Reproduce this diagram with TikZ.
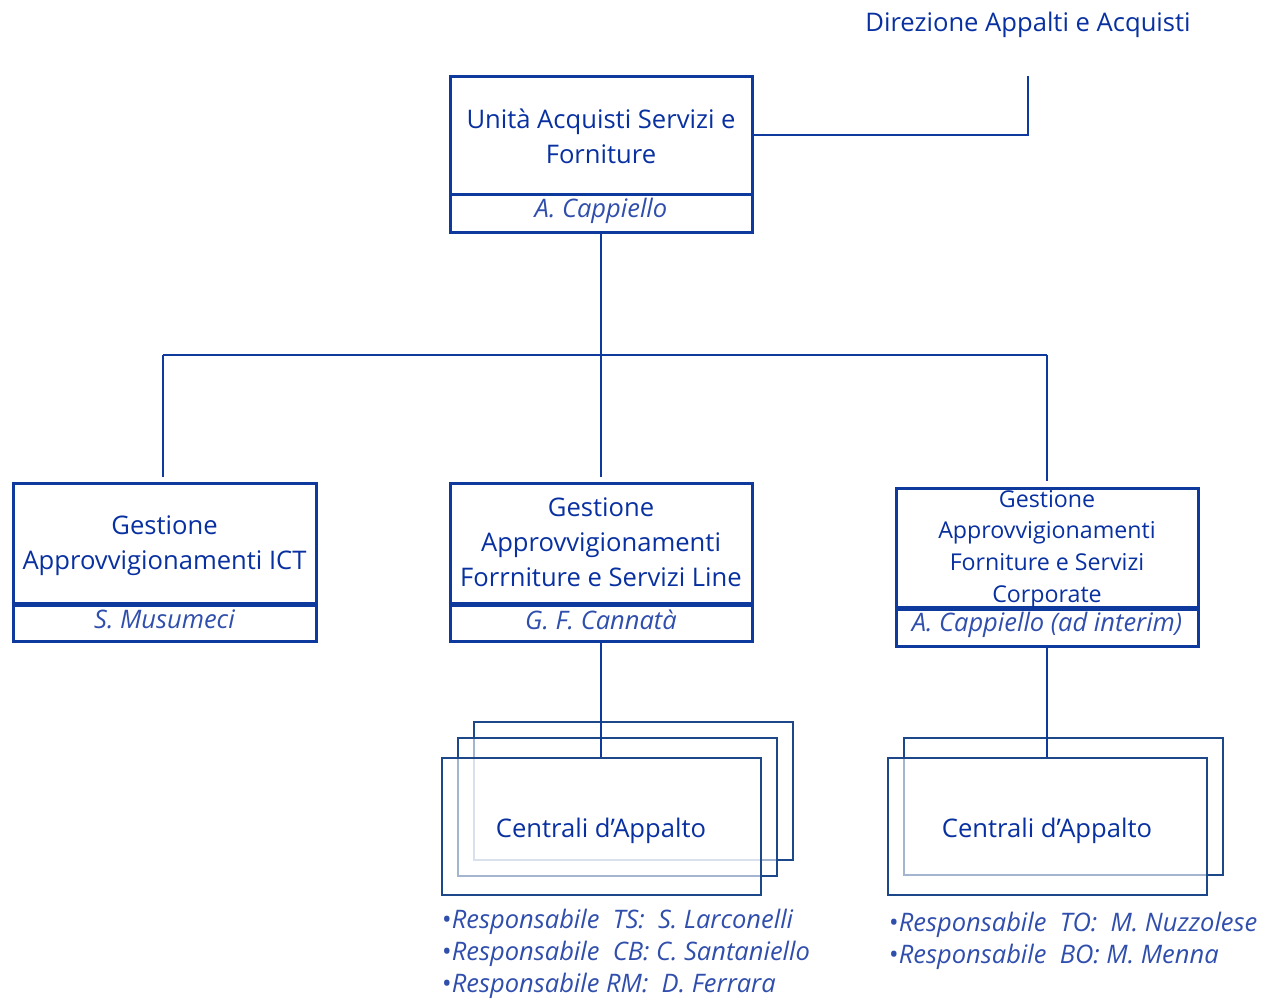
\documentclass[tikz,border=0pt]{standalone}
\usepackage{fontspec}
\setmainfont{Open Sans}
\definecolor{boxc}{RGB}{14,58,158}
\definecolor{textc}{RGB}{8,48,160}
\definecolor{namec}{RGB}{48,78,172}
\definecolor{stackc}{RGB}{28,72,138}
\begin{document}
\begin{tikzpicture}[x=1pt,y=-1pt,
  box/.style={draw=boxc, line width=3pt, rectangle, minimum width=302pt, inner sep=0pt},
  lbl/.style={text=textc, align=center, font=\fontsize{25.6}{35}\selectfont, inner sep=0pt},
  lblsm/.style={text=textc, align=center, font=\fontsize{23.2}{31.7}\selectfont, inner sep=0pt},
  nm/.style={text=namec, font=\itshape\fontsize{25.5}{30}\selectfont, inner sep=0pt},
  stk/.style={draw=stackc, line width=2.8pt, fill=white, fill opacity=0.6, minimum width=319pt, minimum height=137pt, inner sep=0pt},
  wire/.style={draw=boxc, line width=2.8pt},
  divider/.style={draw=boxc, line width=5pt},
  bul/.style={text=namec, align=left, anchor=west, inner sep=0pt, font=\fontsize{25.5}{31.8}\selectfont}
]
\useasboundingbox (0,0) rectangle (1265,998);

% title
\node[lbl] (dirt) at (1028,25) {Direzione Appalti e Acquisti};
\coordinate (dir) at (1028,76);

% top box
\node[box, minimum height=118pt] (topb) at (601,135) {};
\node[box, minimum height=38pt] (topn) at (601,213) {};
\node[lbl] (topt) at (601,136) {Unità Acquisti Servizi e\\Forniture};
\node[nm] (topnm) at (601,211) {A. Cappiello};

% ICT box
\node[box, minimum width=303pt, minimum height=120pt] (ictb) at (164.5,543) {};
\node[box, minimum width=303pt, minimum height=38pt] (ictn) at (164.5,622) {};
\draw[divider] (ictb.south west) -- (ictb.south east);
\node[lbl] (ictt) at (164.5,545.5) {Gestione\\Approvvigionamenti ICT};
\node[nm] (ictnm) at (164.5,619.5) {S. Musumeci};

% Line box
\node[box, minimum height=120pt] (lineb) at (601,543) {};
\node[box, minimum height=38pt] (linen) at (601,622) {};
\draw[divider] (lineb.south west) -- (lineb.south east);
\node[lbl] (linet) at (601,542.5) {Gestione\\Approvvigionamenti\\Forrniture e Servizi Line};
\node[nm] (linenm) at (601,619.5) {G. F. Cannatà};

% Corporate box
\node[box, minimum height=119pt] (corpb) at (1047,547.5) {};
\node[box, minimum height=39pt] (corpn) at (1047,626.5) {};
\draw[divider] (corpb.south west) -- (corpb.south east);
\node[lblsm] (corpt) at (1047,549) {Gestione\\Approvvigionamenti\\Forniture e Servizi\\Corporate};
\node[nm] (corpnm) at (1047,624.5) {A. Cappiello (ad interim)};

% bus connectors
\coordinate (bus) at (601,355);
\coordinate (busL) at (163,355);
\coordinate (busR) at (1047,355);
\coordinate (ictEnd) at (163,477);
\coordinate (lineEnd) at (601,477);
\coordinate (corpEnd) at (1047,481);
\draw[wire] (topb.east) -| (dir);
\draw[wire] (topn.south) -- (bus);
\draw[wire] (busL) -- (busR);
\draw[wire] (busL) -- (ictEnd);
\draw[wire] (bus) -- (lineEnd);
\draw[wire] (busR) -- (corpEnd);

% stack A
\node[stk, minimum height=138pt] (sA3) at (633.5,791) {};
\node[stk, minimum height=138pt] (sA2) at (617.5,807) {};
\node[stk] (sA1) at (601.5,826.5) {};
\node[lbl] (sAt) at (601,831) {Centrali d’Appalto};
\draw[wire] (linen.south) -- (linen.south |- sA1.north);

% stack B
\node[stk] (sB2) at (1063.5,806.5) {};
\node[stk] (sB1) at (1047.5,826.5) {};
\node[lbl] (sBt) at (1047,831) {Centrali d’Appalto};
\draw[wire] (corpn.south) -- (corpn.south |- sB1.north);

% bullet lists
\node[bul] (bulA) at (442,954) {•\textit{Responsabile~~TS:~~S. Larconelli}\\•\textit{Responsabile~~CB: C. Santaniello}\\•\textit{Responsabile RM:~~D. Ferrara}};
\node[bul] (bulB) at (889,941) {•\textit{Responsabile~~TO:~~M. Nuzzolese}\\•\textit{Responsabile~~BO: M. Menna}};
\end{tikzpicture}
\end{document}
